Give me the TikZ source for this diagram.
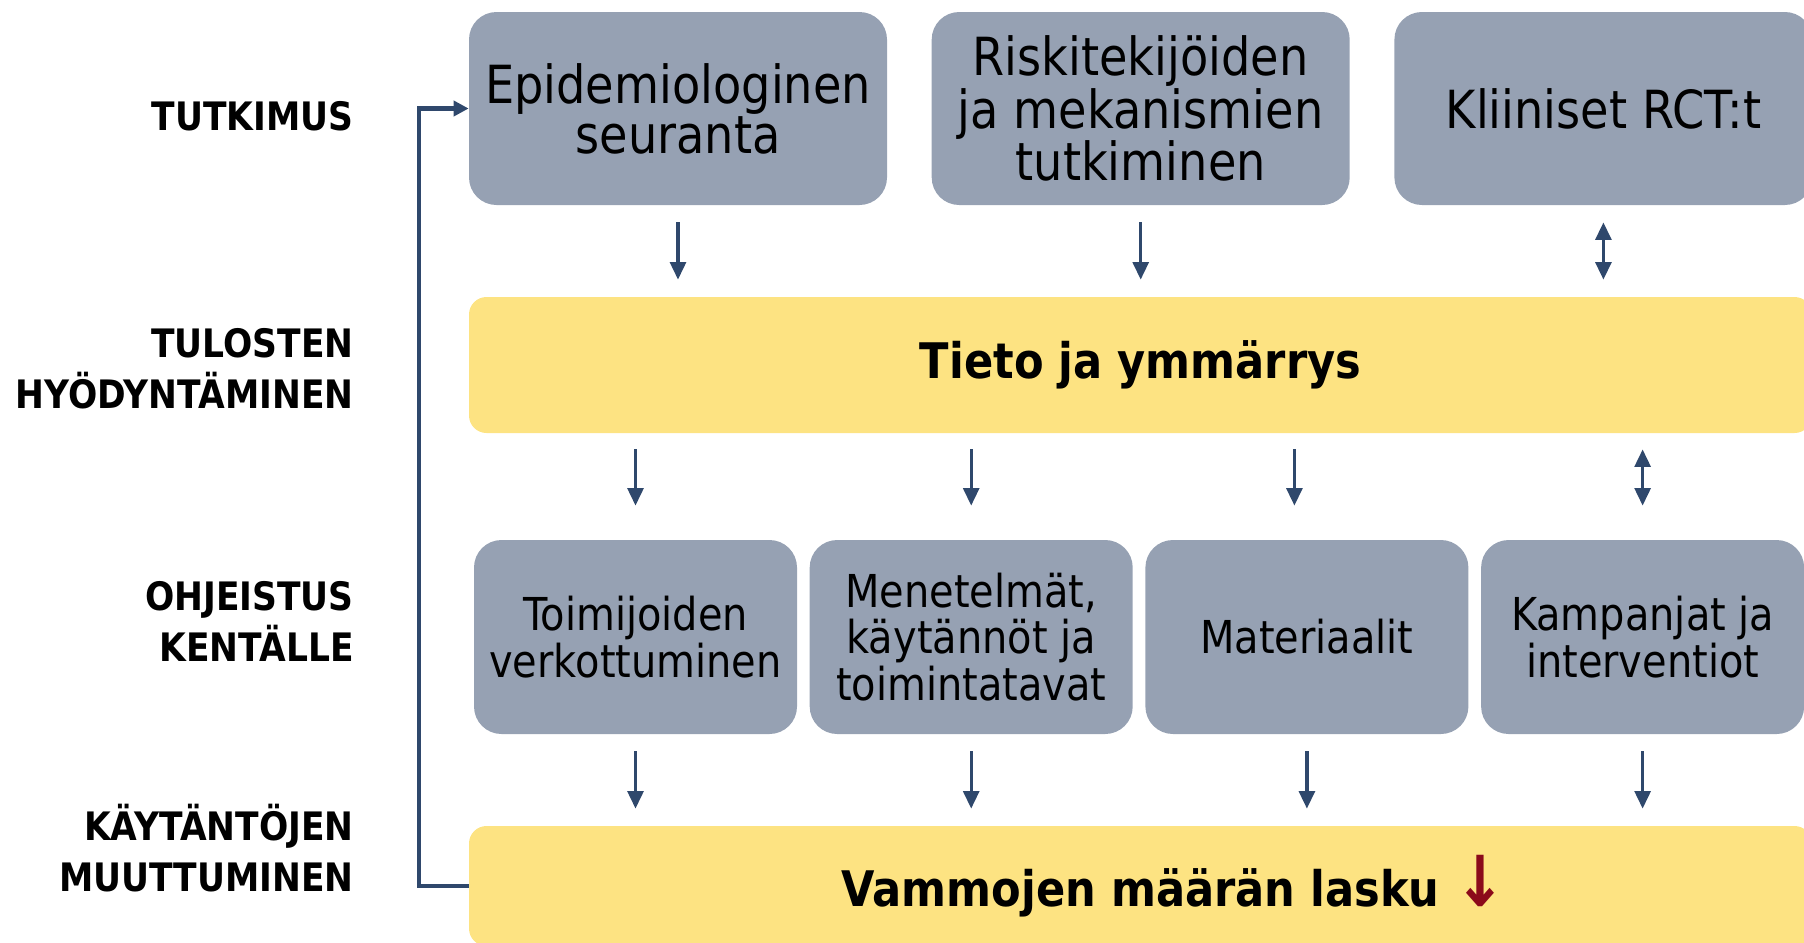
\documentclass[tikz,border=0pt]{standalone}
\usepackage{fontspec}
\setmainfont{DejaVu Sans}[FakeStretch=0.88]
\usetikzlibrary{positioning,arrows.meta}

\definecolor{boxgray}{RGB}{150,161,179}
\definecolor{tietoyellow}{RGB}{253,227,130}
\definecolor{arrownavy}{RGB}{47,72,108}
\definecolor{laskured}{RGB}{139,10,26}

\tikzset{
    tutkbox/.style={fill=boxgray, rounded corners=0.55cm, minimum width=8.36cm, minimum height=3.86cm, align=center, inner sep=0pt, font=\fontsize{29.9}{28.5}\selectfont},
    ohjebox/.style={fill=boxgray, rounded corners=0.55cm, minimum width=6.46cm, minimum height=3.88cm, align=center, inner sep=0pt, font=\fontsize{25.8}{26.6}\selectfont},
    tietobar/.style={fill=tietoyellow, rounded corners=0.35cm, minimum width=26.86cm, inner sep=0pt, font=\bfseries\fontsize{27.9}{30}\selectfont},
    tasolabel/.style={anchor=east, align=right, inner sep=0pt, font=\bfseries\fontsize{22.3}{29}\selectfont},
    nuoli/.style={draw=arrownavy, line width=1.9pt, -{Triangle[length=10pt,width=9pt]}},
    tuplanuoli/.style={draw=arrownavy, line width=1.9pt, {Triangle[length=10pt,width=9pt]}-{Triangle[length=10pt,width=9pt]}},
    palaute/.style={draw=arrownavy, line width=2.3pt, -{Triangle[length=0.3cm,width=0.3cm]}}
}

\begin{document}
\begin{tikzpicture}
    \useasboundingbox (0,0) rectangle (36.08,-18.84);

    % tutkimus
    \node[tutkbox] (epi) at (13.56,-2.17) {Epidemiologinen\\seuranta};
    \node[tutkbox, right=0.88cm of epi] (riski) {Riskitekijöiden\\ja mekanismien\\tutkiminen};
    \node[tutkbox, right=0.88cm of riski] (rct) {Kliiniset RCT:t};

    \node[tietobar, minimum height=2.72cm] (tieto) at (22.81,-7.30) {Tieto ja ymmärrys};

    % ohjeistus
    \node[ohjebox] (verkko) at (12.71,-12.74) {Toimijoiden\\verkottuminen};
    \node[ohjebox, right=0.24cm of verkko] (menet) {Menetelmät,\\käytännöt ja\\toimintatavat};
    \node[ohjebox, right=0.24cm of menet] (mater) {Materiaalit};
    \node[ohjebox, right=0.24cm of mater] (kamp) {Kampanjat ja\\interventiot};

    \node[tietobar, minimum height=2.4cm] (vamma) at (22.81,-17.72) {Vammojen määrän lasku\rlap{ \textcolor{laskured}{\fontsize{40}{40}\selectfont ↓}}};

    % tasot
    \node[tasolabel] (tutk) at (7.08,-2.32) {TUTKIMUS};
    \node[tasolabel] (tulos) at (7.08,-7.38) {TULOSTEN\\HYÖDYNTÄMINEN};
    \node[tasolabel] (ohje) at (7.08,-12.42) {OHJEISTUS\\KENTÄLLE};
    \node[tasolabel] (kayt) at (7.08,-16.97) {KÄYTÄNTÖJEN\\MUUTTUMINEN};

    % nuolet
    \draw[nuoli, shorten <=0.34cm, shorten >=0.34cm] (epi.south) -- (epi.south |- tieto.north);
    \draw[nuoli, shorten <=0.34cm, shorten >=0.34cm] (riski.south) -- (riski.south |- tieto.north);
    \draw[tuplanuoli, shorten <=0.34cm, shorten >=0.34cm] (rct.south) -- (rct.south |- tieto.north);

    \draw[nuoli, shorten <=0.32cm, shorten >=0.68cm] (verkko.north |- tieto.south) -- (verkko.north);
    \draw[nuoli, shorten <=0.32cm, shorten >=0.68cm] (menet.north |- tieto.south) -- (menet.north);
    \draw[nuoli, shorten <=0.32cm, shorten >=0.68cm] ([xshift=-0.25cm]mater.north |- tieto.south) -- ([xshift=-0.25cm]mater.north);
    \draw[tuplanuoli, shorten <=0.32cm, shorten >=0.68cm] (kamp.north |- tieto.south) -- (kamp.north);

    \draw[nuoli, shorten <=0.34cm, shorten >=0.34cm] (verkko.south) -- (verkko.south |- vamma.north);
    \draw[nuoli, shorten <=0.34cm, shorten >=0.34cm] (menet.south) -- (menet.south |- vamma.north);
    \draw[nuoli, shorten <=0.34cm, shorten >=0.34cm] (mater.south) -- (mater.south |- vamma.north);
    \draw[nuoli, shorten <=0.34cm, shorten >=0.34cm] (kamp.south) -- (kamp.south |- vamma.north);

    % palaute
    \draw[palaute] (vamma.west) -- ++(-1,0) |- (epi.west);
\end{tikzpicture}
\end{document}
